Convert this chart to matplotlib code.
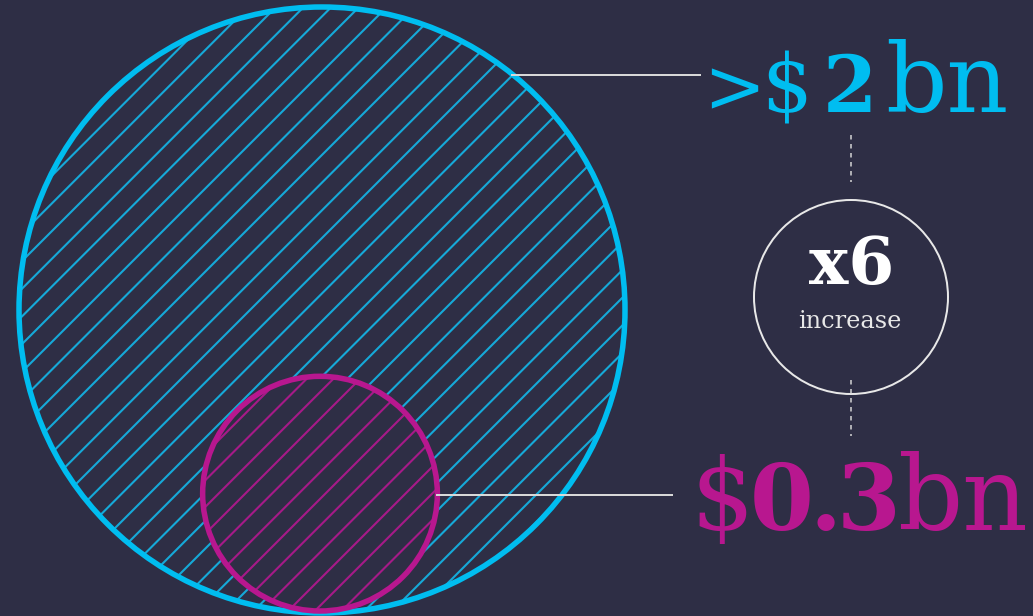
import numpy as np
import matplotlib
matplotlib.use("Agg")
import matplotlib.pyplot as plt
from matplotlib.patches import Circle

# values in $bn
values = [2.0, 0.3]
big_label = [(">", "normal"), ("$", "normal"), ("2", "bold"), ("bn", "normal")]
small_label = [("$", "normal"), ("0", "bold"), (".", "bold"), ("3", "bold"), ("bn", "normal")]
multiplier_text = "x6"
multiplier_sub = "increase"

BG = "#2e2e45"
CYAN = "#00bdf0"
CYAN_H = "#16a9d8"
MAG = "#b8178f"
MAG_H = "#a61a88"
LINE = "#d8d8d8"

DPI = 100
W, H = 1033, 616
pt = 72.0 / DPI  # px -> pt

fig = plt.figure(figsize=(W / DPI, H / DPI), dpi=DPI, facecolor=BG)
ax = fig.add_axes([0, 0, 1, 1])
ax.set_facecolor(BG)
ax.set_xlim(0, W)
ax.set_ylim(H, 0)
ax.set_aspect("equal")
ax.axis("off")

# circle radii scaled by area
R_max = 303
radii = [R_max * np.sqrt(v / max(values)) for v in values]
cx = 322
cy_big = 310
cy_small = cy_big + radii[0] - radii[1] - 2
centers = [(cx, cy_big), (cx - 2, cy_small)]
cols = [CYAN, MAG]
hcols = [CYAN_H, MAG_H]
spacing = [27.7, 26.7]
phase = [6, 18]


def hatched_circle(x, y, r, col, hcol, step, ph, z):
    bg = Circle((x, y), r, facecolor=BG, edgecolor="none", zorder=z)
    ax.add_patch(bg)
    # diagonal lines x + y = c, clipped to the circle
    c0 = ph + step * np.ceil((x + y - 1.5 * r - ph) / step)
    for c in np.arange(c0, x + y + 1.5 * r, step):
        xs = np.array([x - r - 5, x + r + 5])
        ln, = ax.plot(xs, c - xs, color=hcol, lw=2.1 * pt, zorder=z + 0.1)
        ln.set_clip_path(bg)
    ax.add_patch(Circle((x, y), r, facecolor="none", edgecolor=col, lw=5.5 * pt,
                        zorder=z + 0.2))


for i, ((x, y), r, c, hc, st, ph) in enumerate(
        zip(centers, radii, cols, hcols, spacing, phase)):
    hatched_circle(x, y, r, c, hc, st, ph, 1 + i)

# leader lines
ax.plot([512, 700], [75, 75], color=LINE, lw=2 * pt, zorder=5)
ax.plot([centers[1][0] + radii[1], 672], [495, 495], color=LINE, lw=2 * pt, zorder=5)


def pieces(parts, xs, sizes, y, color):
    for (s, weight), x, size in zip(parts, xs, sizes):
        ax.text(x, y, s, fontsize=size * pt, color=color, fontweight=weight,
                family="DejaVu Serif", va="baseline", ha="center")


pieces(big_label, [734, 787, 850, 947], [74, 80, 78, 96], 112, CYAN)
pieces(small_label, [722, 782, 826, 869, 962], [100, 92, 92, 92, 102], 530, MAG)

# x6 badge
bx, by, br = 851, 297, 97
ax.add_patch(Circle((bx, by), br, facecolor="none", edgecolor="#e8e8e8", lw=2 * pt))
ax.text(bx + 1, 284, multiplier_text, fontsize=66 * pt, color="white", fontweight="bold",
        family="DejaVu Serif", ha="center", va="baseline")
ax.text(bx - 1, 328, multiplier_sub, fontsize=24 * pt, color="#e8e8e8",
        family="DejaVu Serif", ha="center", va="baseline")
ax.plot([bx, bx], [135, 182], color=LINE, lw=1.5 * pt, ls=(0, (3, 3)))
ax.plot([bx, bx], [380, 436], color=LINE, lw=1.5 * pt, ls=(0, (3, 3)))

fig.savefig("out.png", dpi=DPI, facecolor=BG)
